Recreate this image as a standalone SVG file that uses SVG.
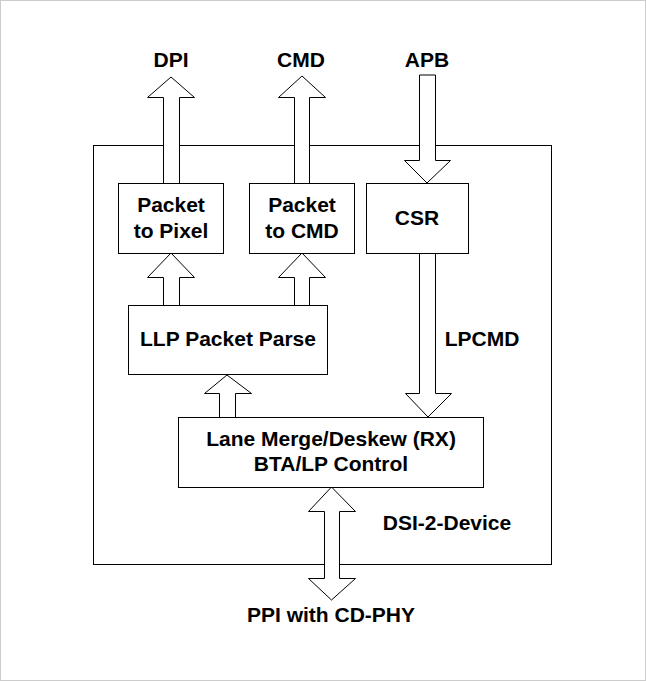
<svg xmlns="http://www.w3.org/2000/svg" width="646" height="681" viewBox="0 0 646 681">
<style>
.b{fill:#fff;stroke:#000;stroke-width:1}
.a{fill:#fff;stroke:#000;stroke-width:1}
text{font-family:"Liberation Sans",Arial,sans-serif;font-weight:bold;font-size:21px;text-anchor:middle;fill:#000}
</style>
<rect x="0.5" y="0.5" width="645" height="680" fill="#fff" stroke="#ccc"/>
<g id="device"><rect class="b" x="93.5" y="145.5" width="458" height="419"/><text x="447" y="530">DSI-2-Device</text></g>
<g id="connectors">
<path class="a" d="M163.5,183 V97.5 H147.5 L171,77 L194.5,97.5 H179.5 V183"/>
<path class="a" d="M294.5,183 V97.5 H278.5 L302,76 L325.5,97.5 H309.5 V183"/>
<path class="a" d="M419.5,75 V160.5 H404.5 L427,183 L450.5,160.5 H435.5 V75 Z"/>
<path class="a" d="M163.5,305 V277.5 H147.5 L171,253 L194.5,277.5 H179.5 V305"/>
<path class="a" d="M294.5,305 V277.5 H278.5 L302,253 L325.5,277.5 H309.5 V305"/>
<path class="a" d="M419.5,253 V393.5 H405.5 L428,417 L451.5,393.5 H435.5 V253"/>
<path class="a" d="M219.5,417 V393.5 H204.5 L227,375 L251.5,393.5 H235.5 V417"/>
<path class="a" d="M331.5,487 L355.5,511.5 H339.5 V578.5 H355.5 L331.5,600 L308.5,578.5 H324.5 V511.5 H308.5 Z"/>
<text x="482" y="346">LPCMD</text>
</g>
<g id="dpi"><text x="171" y="67">DPI</text></g>
<g id="cmd"><text x="301" y="67">CMD</text></g>
<g id="apb"><text x="427" y="67">APB</text></g>
<g id="p2pix"><rect class="b" x="118.5" y="183.5" width="105" height="70"/><text x="171" y="212">Packet</text><text x="171" y="238">to Pixel</text></g>
<g id="p2cmd"><rect class="b" x="249.5" y="183.5" width="105" height="70"/><text x="302" y="212">Packet</text><text x="302" y="238">to CMD</text></g>
<g id="csr"><rect class="b" x="366.5" y="183.5" width="102" height="70"/><text x="417" y="225">CSR</text></g>
<g id="llp"><rect class="b" x="128.5" y="305.5" width="199" height="69"/><text x="228" y="346">LLP Packet Parse</text></g>
<g id="lane"><rect class="b" x="178.5" y="417.5" width="305" height="70"/><text x="331" y="446">Lane Merge/Deskew (RX)</text><text x="331" y="471">BTA/LP Control</text></g>
<g id="ppi"><text x="331" y="622">PPI with CD-PHY</text></g>
</svg>
